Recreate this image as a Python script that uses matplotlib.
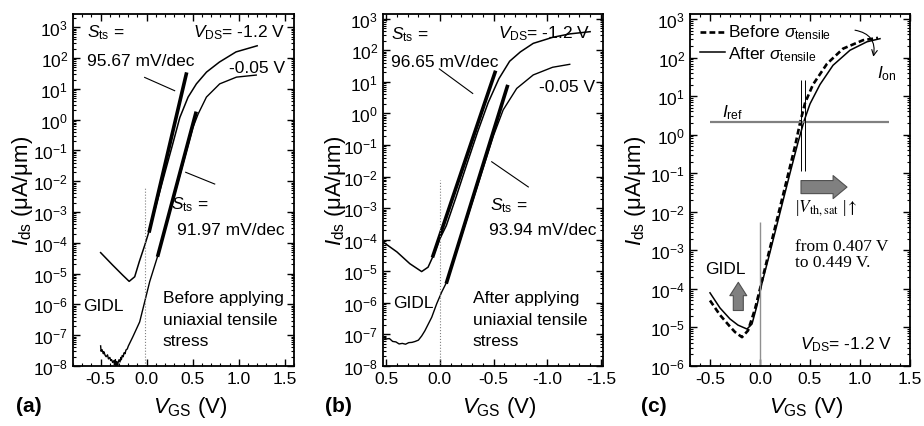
import matplotlib
matplotlib.use('Agg')
import matplotlib.pyplot as plt
from matplotlib.ticker import MultipleLocator, FormatStrFormatter, LogLocator, NullFormatter

plt.rcParams['font.family'] = 'Liberation Sans'
plt.rcParams['mathtext.fontset'] = 'custom'
plt.rcParams['mathtext.rm'] = 'Liberation Sans'
plt.rcParams['mathtext.it'] = 'Liberation Sans:italic'
plt.rcParams['mathtext.bf'] = 'Liberation Sans:bold'
plt.rcParams['axes.unicode_minus'] = False

# ---- panel (a): before stress ----
a_hi_v = [-0.50, -0.37, -0.26, -0.19, -0.13, -0.08, -0.02, 0.03, 0.12, 0.20, 0.28, 0.36,
          0.45, 0.54, 0.65, 0.79, 0.97, 1.20]
a_hi_i = [4.8e-5, 1.9e-5, 8.9e-6, 5.6e-6, 7.9e-6, 2.45e-5, 8.5e-5, 2.6e-4, 2.6e-3, 2.0e-2,
          0.15, 1.17, 5.4, 14.5, 35, 74, 158, 250]
a_lo_v = [-0.50, -0.495, -0.485, -0.47, -0.465, -0.45, -0.44, -0.425, -0.415, -0.40, -0.39,
          -0.38, -0.37, -0.355, -0.35, -0.34, -0.335, -0.325, -0.315, -0.31, -0.30, -0.29,
          -0.28, -0.275, -0.265, -0.255, -0.245, -0.235, -0.225, -0.21, -0.20, -0.15, -0.076,
          -0.022, 0.033, 0.123, 0.20, 0.30, 0.40, 0.503, 0.558, 0.649, 0.793, 0.975, 1.19]
a_lo_i = [4.5e-8, 3.0e-8, 3.4e-8, 2.5e-8, 2.9e-8, 2.2e-8, 2.0e-8, 2.3e-8, 1.7e-8, 1.9e-8,
          1.5e-8, 1.6e-8, 1.3e-8, 1.5e-8, 1.1e-8, 1.6e-8, 1.0e-8, 1.4e-8, 1.05e-8, 1.3e-8,
          1.6e-8, 1.35e-8, 1.9e-8, 1.6e-8, 2.2e-8, 2.0e-8, 2.7e-8, 2.5e-8, 3.3e-8, 3.6e-8,
          4.4e-8, 8.9e-8, 2.7e-7, 1.2e-6, 5.5e-6, 4.0e-5, 2.75e-4, 3.4e-3, 4.2e-2, 0.56, 1.5,
          5.4, 14.5, 24, 28]
a_fit1_v = [0.03, 0.43]
a_fit1_i = [2.45e-4, 30]
a_fit2_v = [0.123, 0.533]
a_fit2_i = [4.0e-5, 1.6]
a_ptr1_v = [-0.022, 0.304]
a_ptr1_i = [23.5, 8.7]
a_ptr2_v = [0.424, 0.739]
a_ptr2_i = [0.0195, 8.1e-3]

# ---- panel (b): after stress (reversed V axis) ----
b_hi_v = [0.53, 0.40, 0.28, 0.17, 0.11, 0.06, 0.0, -0.06, -0.15, -0.25, -0.35, -0.45,
          -0.55, -0.65, -0.75, -0.87, -1.05, -1.21, -1.40]
b_hi_i = [8.5e-5, 4.1e-5, 1.74e-5, 9.8e-6, 1.35e-5, 3.2e-5, 1.07e-4, 2.8e-4, 2.2e-3,
          2.4e-2, 0.25, 2.2, 12.6, 45, 89, 166, 257, 331, 389]
b_lo_v = [0.53, 0.50, 0.47, 0.44, 0.41, 0.38, 0.35, 0.32, 0.29, 0.26, 0.23, 0.20, 0.17,
          0.14, 0.076, 0.03, -0.017, -0.064, -0.20, -0.35, -0.50, -0.59, -0.716, -0.87,
          -1.05, -1.21]
b_lo_i = [8.1e-8, 7.2e-8, 7.4e-8, 6.0e-8, 5.8e-8, 5.0e-8, 5.2e-8, 4.9e-8, 5.5e-8, 5.6e-8,
          6.0e-8, 6.6e-8, 8.9e-8, 1.3e-7, 3.5e-7, 9.3e-7, 2.2e-6, 4.6e-6, 1.26e-4, 5.0e-3,
          0.2, 1.3, 6.2, 16.6, 29, 36]
b_fit1_v = [0.064, -0.514]
b_fit1_i = [3.1e-5, 20]
b_fit2_v = [-0.064, -0.628]
b_fit2_i = [4.6e-6, 7.1]
b_ptr1_v = [0.005, -0.306]
b_ptr1_i = [25.7, 4.3]
b_ptr2_v = [-0.483, -0.824]
b_ptr2_i = [0.0295, 4.7e-3]

# ---- panel (c): comparison at VDS = -1.2 V ----
c_after_v = [-0.50, -0.40, -0.30, -0.22, -0.13, -0.08, -0.03, 0.02, 0.10, 0.20, 0.30,
             0.38, 0.44, 0.50, 0.60, 0.73, 0.90, 1.07, 1.20]
c_after_i = [7.9e-5, 3.2e-5, 1.66e-5, 1.15e-5, 9.1e-6, 1.23e-5, 3.7e-5, 1.41e-4, 8.9e-4,
             9.5e-3, 0.1, 0.63, 2.24, 6.3, 20, 63, 155, 257, 309]
c_before_v = [-0.50, -0.40, -0.30, -0.25, -0.18, -0.12, -0.05, 0.00, 0.07, 0.17, 0.27,
              0.35, 0.40, 0.45, 0.53, 0.67, 0.83, 1.03, 1.18]
c_before_i = [5.0e-5, 2.1e-5, 1.05e-5, 7.6e-6, 5.6e-6, 8.3e-6, 3.0e-5, 1.0e-4, 5.6e-4,
              6.3e-3, 7.1e-2, 0.5, 2.0, 6.6, 20, 69, 170, 282, 324]
c_vth = [0.407, 0.449]
c_iref = 2.1

fig = plt.figure(figsize=(9.24, 4.27), dpi=100)
W, H = 924, 427
axa = fig.add_axes([73 / W, 60 / H, 221 / W, 352 / H])
axb = fig.add_axes([383 / W, 60 / H, 220 / W, 352 / H])
axc = fig.add_axes([690 / W, 60 / H, 220 / W, 352 / H])

TS = 12.5


def style(ax, xlim, ylim, ylab_x):
    ax.set_yscale('log')
    ax.set_xlim(*xlim)
    ax.set_ylim(*ylim)
    ax.xaxis.set_major_locator(MultipleLocator(0.5))
    ax.xaxis.set_minor_locator(MultipleLocator(0.1))
    ax.xaxis.set_major_formatter(FormatStrFormatter('%.1f'))
    ax.yaxis.set_major_locator(LogLocator(base=10, numticks=30))
    ax.yaxis.set_minor_locator(LogLocator(base=10, subs=range(2, 10), numticks=300))
    ax.yaxis.set_minor_formatter(NullFormatter())
    ax.tick_params(which='both', direction='in', top=True, right=True, labelsize=TS)
    ax.tick_params(which='major', length=5, width=1)
    ax.tick_params(which='minor', length=2.5, width=0.8)
    for s in ax.spines.values():
        s.set_linewidth(1.3)
    ax.set_xlabel('$V_{\\rm GS}$ (V)', fontsize=16)
    ax.set_ylabel('$I_{\\rm ds}$ (μA/μm)', fontsize=16)
    ax.xaxis.set_label_coords(0.53, -0.115)
    ax.xaxis.label.set_va('center')
    ax.yaxis.set_label_coords(ylab_x, 0.5)
    ax.yaxis.label.set_va('center')


# panel (a)
style(axa, (-0.8, 1.6), (1e-8, 10 ** 3.43), -0.23)
axa.plot(a_hi_v, a_hi_i, color='black', lw=1.1)
axa.plot(a_lo_v, a_lo_i, color='black', lw=1.0)
axa.plot(a_fit1_v, a_fit1_i, color='black', lw=2.6)
axa.plot(a_fit2_v, a_fit2_i, color='black', lw=2.6)
axa.plot(a_ptr1_v, a_ptr1_i, color='black', lw=0.8)
axa.plot(a_ptr2_v, a_ptr2_i, color='black', lw=0.8)
axa.vlines(-0.02, 1e-8, 10 ** -2.2, color='gray', lw=0.8, linestyles=':')
axa.text(0.063, 0.949, '$S_{\\rm ts}$ =', transform=axa.transAxes, fontsize=TS, va='center')
axa.text(0.063, 0.869, '95.67 mV/dec', transform=axa.transAxes, fontsize=TS, va='center')
axa.text(0.959, 0.949, '$V_{\\rm DS}$= -1.2 V', transform=axa.transAxes, fontsize=TS,
         va='center', ha='right')
axa.text(0.959, 0.849, '-0.05 V', transform=axa.transAxes, fontsize=TS, va='center', ha='right')
axa.text(0.443, 0.46, '$S_{\\rm ts}$ =', transform=axa.transAxes, fontsize=TS, va='center')
axa.text(0.471, 0.389, '91.97 mV/dec', transform=axa.transAxes, fontsize=TS, va='center')
axa.text(0.045, 0.173, 'GIDL', transform=axa.transAxes, fontsize=TS, va='center')
axa.text(0.407, 0.216, 'Before applying\nuniaxial tensile\nstress', transform=axa.transAxes,
         fontsize=TS, va='top', linespacing=1.55)

# panel (b)
style(axb, (0.53, -1.52), (1e-8, 10 ** 3.15), -0.218)
axb.plot(b_hi_v, b_hi_i, color='black', lw=1.1)
axb.plot(b_lo_v, b_lo_i, color='black', lw=1.0)
axb.plot(b_fit1_v, b_fit1_i, color='black', lw=2.6)
axb.plot(b_fit2_v, b_fit2_i, color='black', lw=2.6)
axb.plot(b_ptr1_v, b_ptr1_i, color='black', lw=0.8)
axb.plot(b_ptr2_v, b_ptr2_i, color='black', lw=0.8)
axb.vlines(0.0, 1e-8, 10 ** -2.1, color='gray', lw=0.8, linestyles=':')
axb.text(0.036, 0.943, '$S_{\\rm ts}$ =', transform=axb.transAxes, fontsize=TS, va='center')
axb.text(0.036, 0.866, '96.65 mV/dec', transform=axb.transAxes, fontsize=TS, va='center')
axb.text(0.941, 0.946, '$V_{\\rm DS}$= -1.2 V', transform=axb.transAxes, fontsize=TS,
         va='center', ha='right')
axb.text(0.964, 0.795, '-0.05 V', transform=axb.transAxes, fontsize=TS, va='center', ha='right')
axb.text(0.486, 0.457, '$S_{\\rm ts}$ =', transform=axb.transAxes, fontsize=TS, va='center')
axb.text(0.482, 0.389, '93.94 mV/dec', transform=axb.transAxes, fontsize=TS, va='center')
axb.text(0.045, 0.179, 'GIDL', transform=axb.transAxes, fontsize=TS, va='center')
axb.text(0.409, 0.216, 'After applying\nuniaxial tensile\nstress', transform=axb.transAxes,
         fontsize=TS, va='top', linespacing=1.55)

# panel (c)
style(axc, (-0.7, 1.5), (1e-6, 10 ** 3.13), -0.25)
axc.plot(c_before_v, c_before_i, color='black', lw=1.9, linestyle=(0, (2.2, 1.2)))
axc.plot(c_after_v, c_after_i, color='black', lw=1.1)
axc.hlines(c_iref, -0.5, 1.29, color='#808080', lw=1.6)
axc.vlines(c_vth, 10 ** -0.93, 10 ** 1.41, color='black', lw=0.7)
axc.vlines(0.0, 1e-6, 10 ** -2.26, color='#909090', lw=1.0)
axc.annotate('', xy=(0.87, 0.0437), xytext=(0.41, 0.0437),
             arrowprops=dict(arrowstyle='simple,head_length=0.5,head_width=0.83,tail_width=0.47',
                             fc='#808080', ec='#505050', lw=0.8, mutation_scale=20,
                             shrinkA=0, shrinkB=0))
axc.annotate('', xy=(-0.217, 1.48e-4), xytext=(-0.217, 2.75e-5),
             arrowprops=dict(arrowstyle='simple,head_length=0.48,head_width=0.61,tail_width=0.36',
                             fc='#808080', ec='#505050', lw=0.8, mutation_scale=20,
                             shrinkA=0, shrinkB=0))
axc.annotate('', xy=(1.133, 105), xytext=(0.95, 513),
             arrowprops=dict(arrowstyle='->', color='black', lw=0.8,
                             connectionstyle='arc3,rad=-0.5', shrinkA=0, shrinkB=0))
axc.plot([0.045, 0.159], [0.949, 0.949], transform=axc.transAxes, color='black', lw=1.9,
         linestyle=(0, (2.2, 1.2)))
axc.plot([0.045, 0.159], [0.892, 0.892], transform=axc.transAxes, color='black', lw=1.1)
axc.text(0.173, 0.949, 'Before $\\sigma_{\\rm tensile}$', transform=axc.transAxes,
         fontsize=TS, va='center')
axc.text(0.173, 0.886, 'After $\\sigma_{\\rm tensile}$', transform=axc.transAxes,
         fontsize=TS, va='center')
axc.text(0.145, 0.724, '$I_{\\rm ref}$', transform=axc.transAxes, fontsize=TS, va='center')
axc.text(0.85, 0.832, '$I_{\\rm on}$', transform=axc.transAxes, fontsize=TS, va='center')
axc.text(0.477, 0.452, '|$V_{\\rm th,sat}$ |$\\uparrow$', transform=axc.transAxes,
         fontsize=TS, va='center', family='Liberation Serif', math_fontfamily='stix')
axc.text(0.477, 0.341, 'from 0.407 V', transform=axc.transAxes, fontsize=TS, va='center',
         family='Liberation Serif')
axc.text(0.477, 0.295, 'to 0.449 V.', transform=axc.transAxes, fontsize=TS, va='center',
         family='Liberation Serif')
axc.text(0.068, 0.276, 'GIDL', transform=axc.transAxes, fontsize=TS, va='center')
axc.text(0.918, 0.0625, '$V_{\\rm DS}$= -1.2 V', transform=axc.transAxes, fontsize=TS,
         va='center', ha='right')

fig.text(29 / W, 0.047, '(a)', fontsize=15, fontweight='bold', ha='center', va='center')
fig.text(338 / W, 0.047, '(b)', fontsize=15, fontweight='bold', ha='center', va='center')
fig.text(654 / W, 0.049, '(c)', fontsize=15, fontweight='bold', ha='center', va='center')

fig.savefig('out.png', dpi=100)
